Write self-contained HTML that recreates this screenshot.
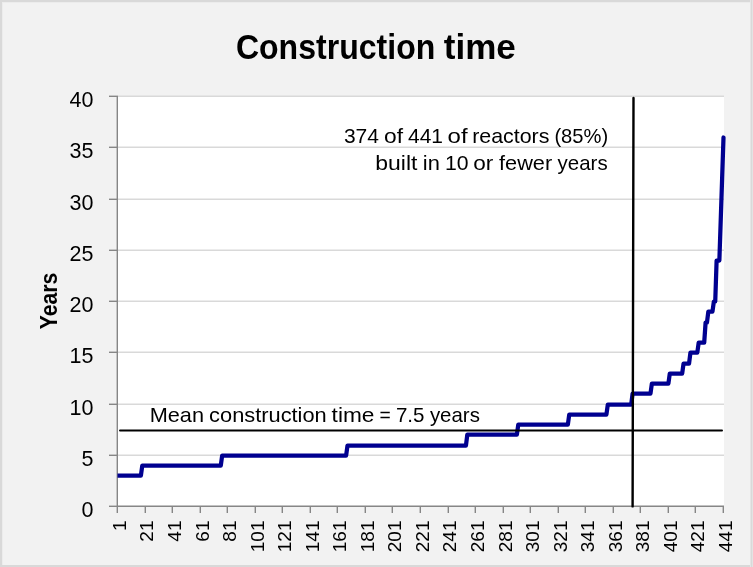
<!DOCTYPE html>
<html><head><meta charset="utf-8"><style>html,body{margin:0;padding:0;background:#f2f2f2;}svg{display:block;will-change:transform}</style></head>
<body><svg width="753" height="567" viewBox="0 0 753 567">
<rect x="0" y="0" width="753" height="567" fill="#f2f2f2"/>
<rect x="0" y="0" width="2" height="567" fill="#d9d9d9"/><rect x="2" y="0" width="1" height="567" fill="#ececec"/>
<rect x="0" y="0" width="753" height="2" fill="#d9d9d9"/><rect x="2" y="2" width="748" height="1" fill="#ececec"/>
<rect x="0" y="565" width="753" height="2" fill="#d9d9d9"/>
<rect x="750" y="0" width="1" height="567" fill="#e5e5e5"/><rect x="751" y="0" width="1" height="567" fill="#d9d9d9"/><rect x="752" y="0" width="1" height="567" fill="#e3e3e3"/>
<rect x="118" y="96" width="606" height="410" fill="#ffffff"/>
<line x1="118" y1="455.3" x2="724" y2="455.3" stroke="#d9d9d9" stroke-width="1.4"/>
<line x1="118" y1="404.3" x2="724" y2="404.3" stroke="#d9d9d9" stroke-width="1.4"/>
<line x1="118" y1="352.3" x2="724" y2="352.3" stroke="#d9d9d9" stroke-width="1.4"/>
<line x1="118" y1="301.3" x2="724" y2="301.3" stroke="#d9d9d9" stroke-width="1.4"/>
<line x1="118" y1="250.3" x2="724" y2="250.3" stroke="#d9d9d9" stroke-width="1.4"/>
<line x1="118" y1="199.3" x2="724" y2="199.3" stroke="#d9d9d9" stroke-width="1.4"/>
<line x1="118" y1="147.3" x2="724" y2="147.3" stroke="#d9d9d9" stroke-width="1.4"/>
<line x1="118" y1="96.3" x2="724" y2="96.3" stroke="#d9d9d9" stroke-width="1.4"/>
<line x1="117.3" y1="96" x2="117.3" y2="507" stroke="#868686" stroke-width="1.4"/>
<line x1="109" y1="506.3" x2="118" y2="506.3" stroke="#868686" stroke-width="1.4"/>
<line x1="109" y1="455.3" x2="118" y2="455.3" stroke="#868686" stroke-width="1.4"/>
<line x1="109" y1="404.3" x2="118" y2="404.3" stroke="#868686" stroke-width="1.4"/>
<line x1="109" y1="352.3" x2="118" y2="352.3" stroke="#868686" stroke-width="1.4"/>
<line x1="109" y1="301.3" x2="118" y2="301.3" stroke="#868686" stroke-width="1.4"/>
<line x1="109" y1="250.3" x2="118" y2="250.3" stroke="#868686" stroke-width="1.4"/>
<line x1="109" y1="199.3" x2="118" y2="199.3" stroke="#868686" stroke-width="1.4"/>
<line x1="109" y1="147.3" x2="118" y2="147.3" stroke="#868686" stroke-width="1.4"/>
<line x1="109" y1="96.3" x2="118" y2="96.3" stroke="#868686" stroke-width="1.4"/>
<line x1="117" y1="506.3" x2="724" y2="506.3" stroke="#868686" stroke-width="1.4"/>
<line x1="117.3" y1="506" x2="117.3" y2="513" stroke="#868686" stroke-width="1.4"/>
<line x1="145.3" y1="506" x2="145.3" y2="513" stroke="#868686" stroke-width="1.4"/>
<line x1="172.3" y1="506" x2="172.3" y2="513" stroke="#868686" stroke-width="1.4"/>
<line x1="200.3" y1="506" x2="200.3" y2="513" stroke="#868686" stroke-width="1.4"/>
<line x1="227.3" y1="506" x2="227.3" y2="513" stroke="#868686" stroke-width="1.4"/>
<line x1="255.3" y1="506" x2="255.3" y2="513" stroke="#868686" stroke-width="1.4"/>
<line x1="282.3" y1="506" x2="282.3" y2="513" stroke="#868686" stroke-width="1.4"/>
<line x1="310.3" y1="506" x2="310.3" y2="513" stroke="#868686" stroke-width="1.4"/>
<line x1="337.3" y1="506" x2="337.3" y2="513" stroke="#868686" stroke-width="1.4"/>
<line x1="365.3" y1="506" x2="365.3" y2="513" stroke="#868686" stroke-width="1.4"/>
<line x1="392.3" y1="506" x2="392.3" y2="513" stroke="#868686" stroke-width="1.4"/>
<line x1="420.3" y1="506" x2="420.3" y2="513" stroke="#868686" stroke-width="1.4"/>
<line x1="448.3" y1="506" x2="448.3" y2="513" stroke="#868686" stroke-width="1.4"/>
<line x1="475.3" y1="506" x2="475.3" y2="513" stroke="#868686" stroke-width="1.4"/>
<line x1="503.3" y1="506" x2="503.3" y2="513" stroke="#868686" stroke-width="1.4"/>
<line x1="530.3" y1="506" x2="530.3" y2="513" stroke="#868686" stroke-width="1.4"/>
<line x1="558.3" y1="506" x2="558.3" y2="513" stroke="#868686" stroke-width="1.4"/>
<line x1="585.3" y1="506" x2="585.3" y2="513" stroke="#868686" stroke-width="1.4"/>
<line x1="613.3" y1="506" x2="613.3" y2="513" stroke="#868686" stroke-width="1.4"/>
<line x1="640.3" y1="506" x2="640.3" y2="513" stroke="#868686" stroke-width="1.4"/>
<line x1="668.3" y1="506" x2="668.3" y2="513" stroke="#868686" stroke-width="1.4"/>
<line x1="695.3" y1="506" x2="695.3" y2="513" stroke="#868686" stroke-width="1.4"/>
<line x1="723.3" y1="506" x2="723.3" y2="513" stroke="#868686" stroke-width="1.4"/>
<clipPath id="pc"><rect x="117.5" y="90" width="612" height="416.5"/></clipPath>
<path clip-path="url(#pc)" d="M117.50,475.50 L140.91,475.50 L142.29,465.50 L220.80,465.50 L222.17,455.50 L346.13,455.50 L347.50,445.50 L465.95,445.50 L467.33,434.50 L516.91,434.50 L518.29,424.50 L567.87,424.50 L569.25,414.50 L606.43,414.50 L607.81,404.50 L631.22,404.50 L632.60,393.50 L650.50,393.50 L651.88,383.50 L668.41,383.50 L669.79,373.50 L682.18,373.50 L683.56,363.50 L689.07,363.50 L690.45,352.50 L697.33,352.50 L698.71,342.50 L704.22,342.50 L705.60,322.50 L706.97,322.50 L708.35,311.50 L712.48,311.50 L713.86,301.50 L715.24,301.50 L716.61,260.50 L719.37,260.50 L720.75,219.50 L722.12,178.50 L723.50,137.50" fill="none" stroke="#000090" stroke-width="4.25" stroke-linejoin="round" stroke-linecap="round"/>
<line x1="120" y1="430.50" x2="722" y2="430.50" stroke="#000" stroke-width="2" stroke-linecap="round"/>
<line x1="633.5" y1="98" x2="632.6" y2="506.4" stroke="#000" stroke-width="2.4" stroke-linecap="round"/>
<text x="235.90" y="59.1" font-family="Liberation Sans, sans-serif" font-size="35.5" font-weight="bold" textLength="199.39" lengthAdjust="spacingAndGlyphs">Construction</text>
<text x="443.82" y="59.1" font-family="Liberation Sans, sans-serif" font-size="35.5" font-weight="bold" textLength="72.04" lengthAdjust="spacingAndGlyphs">time</text>
<text x="343.88" y="143" font-family="Liberation Sans, sans-serif" font-size="21" textLength="35.05" lengthAdjust="spacingAndGlyphs">374</text>
<text x="384.12" y="143" font-family="Liberation Sans, sans-serif" font-size="21" textLength="19.02" lengthAdjust="spacingAndGlyphs">of</text>
<text x="407.99" y="143" font-family="Liberation Sans, sans-serif" font-size="21" textLength="35.00" lengthAdjust="spacingAndGlyphs">441</text>
<text x="447.58" y="143" font-family="Liberation Sans, sans-serif" font-size="21" textLength="20.01" lengthAdjust="spacingAndGlyphs">of</text>
<text x="472.16" y="143" font-family="Liberation Sans, sans-serif" font-size="21" textLength="77.27" lengthAdjust="spacingAndGlyphs">reactors</text>
<text x="554.41" y="143" font-family="Liberation Sans, sans-serif" font-size="21" textLength="53.77" lengthAdjust="spacingAndGlyphs">(85%)</text>
<text x="375.27" y="169.6" font-family="Liberation Sans, sans-serif" font-size="21" textLength="42.12" lengthAdjust="spacingAndGlyphs">built</text>
<text x="422.81" y="169.6" font-family="Liberation Sans, sans-serif" font-size="21" textLength="17.05" lengthAdjust="spacingAndGlyphs">in</text>
<text x="444.96" y="169.6" font-family="Liberation Sans, sans-serif" font-size="21" textLength="23.57" lengthAdjust="spacingAndGlyphs">10</text>
<text x="473.17" y="169.6" font-family="Liberation Sans, sans-serif" font-size="21" textLength="20.09" lengthAdjust="spacingAndGlyphs">or</text>
<text x="499.04" y="169.6" font-family="Liberation Sans, sans-serif" font-size="21" textLength="53.17" lengthAdjust="spacingAndGlyphs">fewer</text>
<text x="557.61" y="169.6" font-family="Liberation Sans, sans-serif" font-size="21" textLength="50.07" lengthAdjust="spacingAndGlyphs">years</text>
<text x="149.70" y="422" font-family="Liberation Sans, sans-serif" font-size="19.8" textLength="54.30" lengthAdjust="spacingAndGlyphs">Mean</text>
<text x="209.14" y="422" font-family="Liberation Sans, sans-serif" font-size="19.8" textLength="117.59" lengthAdjust="spacingAndGlyphs">construction</text>
<text x="331.62" y="422" font-family="Liberation Sans, sans-serif" font-size="19.8" textLength="42.84" lengthAdjust="spacingAndGlyphs">time</text>
<text x="379.52" y="422" font-family="Liberation Sans, sans-serif" font-size="19.8" textLength="11.25" lengthAdjust="spacingAndGlyphs">=</text>
<text x="395.92" y="422" font-family="Liberation Sans, sans-serif" font-size="19.8" textLength="28.54" lengthAdjust="spacingAndGlyphs">7.5</text>
<text x="429.90" y="422" font-family="Liberation Sans, sans-serif" font-size="19.8" textLength="49.98" lengthAdjust="spacingAndGlyphs">years</text>
<text x="93.5" y="517.00" font-family="Liberation Sans, sans-serif" font-size="21.5" text-anchor="end">0</text>
<text x="93.5" y="465.75" font-family="Liberation Sans, sans-serif" font-size="21.5" text-anchor="end">5</text>
<text x="93.5" y="414.50" font-family="Liberation Sans, sans-serif" font-size="21.5" text-anchor="end">10</text>
<text x="93.5" y="363.25" font-family="Liberation Sans, sans-serif" font-size="21.5" text-anchor="end">15</text>
<text x="93.5" y="312.00" font-family="Liberation Sans, sans-serif" font-size="21.5" text-anchor="end">20</text>
<text x="93.5" y="260.75" font-family="Liberation Sans, sans-serif" font-size="21.5" text-anchor="end">25</text>
<text x="93.5" y="209.50" font-family="Liberation Sans, sans-serif" font-size="21.5" text-anchor="end">30</text>
<text x="93.5" y="158.25" font-family="Liberation Sans, sans-serif" font-size="21.5" text-anchor="end">35</text>
<text x="93.5" y="107.00" font-family="Liberation Sans, sans-serif" font-size="21.5" text-anchor="end">40</text>
<text transform="translate(56.8,329.3) rotate(-90)" font-family="Liberation Sans, sans-serif" font-weight="bold" font-size="23" textLength="56.5" lengthAdjust="spacingAndGlyphs">Years</text>
<text transform="translate(125.90,520.5) rotate(-90)" font-family="Liberation Sans, sans-serif" font-size="19" text-anchor="end">1</text>
<text transform="translate(153.45,520.5) rotate(-90)" font-family="Liberation Sans, sans-serif" font-size="19" text-anchor="end">21</text>
<text transform="translate(180.99,520.5) rotate(-90)" font-family="Liberation Sans, sans-serif" font-size="19" text-anchor="end">41</text>
<text transform="translate(208.54,520.5) rotate(-90)" font-family="Liberation Sans, sans-serif" font-size="19" text-anchor="end">61</text>
<text transform="translate(236.08,520.5) rotate(-90)" font-family="Liberation Sans, sans-serif" font-size="19" text-anchor="end">81</text>
<text transform="translate(263.63,520.5) rotate(-90)" font-family="Liberation Sans, sans-serif" font-size="19" text-anchor="end">101</text>
<text transform="translate(291.17,520.5) rotate(-90)" font-family="Liberation Sans, sans-serif" font-size="19" text-anchor="end">121</text>
<text transform="translate(318.72,520.5) rotate(-90)" font-family="Liberation Sans, sans-serif" font-size="19" text-anchor="end">141</text>
<text transform="translate(346.26,520.5) rotate(-90)" font-family="Liberation Sans, sans-serif" font-size="19" text-anchor="end">161</text>
<text transform="translate(373.81,520.5) rotate(-90)" font-family="Liberation Sans, sans-serif" font-size="19" text-anchor="end">181</text>
<text transform="translate(401.35,520.5) rotate(-90)" font-family="Liberation Sans, sans-serif" font-size="19" text-anchor="end">201</text>
<text transform="translate(428.90,520.5) rotate(-90)" font-family="Liberation Sans, sans-serif" font-size="19" text-anchor="end">221</text>
<text transform="translate(456.45,520.5) rotate(-90)" font-family="Liberation Sans, sans-serif" font-size="19" text-anchor="end">241</text>
<text transform="translate(483.99,520.5) rotate(-90)" font-family="Liberation Sans, sans-serif" font-size="19" text-anchor="end">261</text>
<text transform="translate(511.54,520.5) rotate(-90)" font-family="Liberation Sans, sans-serif" font-size="19" text-anchor="end">281</text>
<text transform="translate(539.08,520.5) rotate(-90)" font-family="Liberation Sans, sans-serif" font-size="19" text-anchor="end">301</text>
<text transform="translate(566.63,520.5) rotate(-90)" font-family="Liberation Sans, sans-serif" font-size="19" text-anchor="end">321</text>
<text transform="translate(594.17,520.5) rotate(-90)" font-family="Liberation Sans, sans-serif" font-size="19" text-anchor="end">341</text>
<text transform="translate(621.72,520.5) rotate(-90)" font-family="Liberation Sans, sans-serif" font-size="19" text-anchor="end">361</text>
<text transform="translate(649.26,520.5) rotate(-90)" font-family="Liberation Sans, sans-serif" font-size="19" text-anchor="end">381</text>
<text transform="translate(676.81,520.5) rotate(-90)" font-family="Liberation Sans, sans-serif" font-size="19" text-anchor="end">401</text>
<text transform="translate(704.35,520.5) rotate(-90)" font-family="Liberation Sans, sans-serif" font-size="19" text-anchor="end">421</text>
<text transform="translate(731.90,520.5) rotate(-90)" font-family="Liberation Sans, sans-serif" font-size="19" text-anchor="end">441</text>
</svg></body></html>
